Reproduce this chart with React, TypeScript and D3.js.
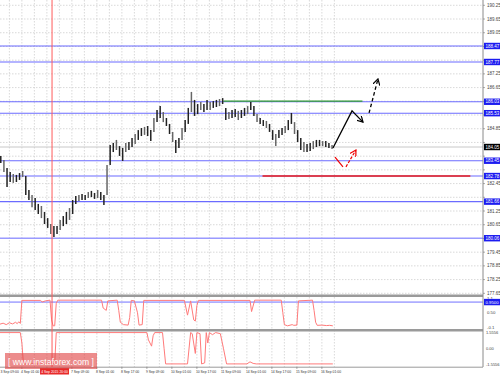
import React from "react";
import * as d3 from "d3";

const W = 500;
const H = 376;

// OHLC ranges, one entry per 2 hourly bars
const barHigh = [183.66,183.48,183.13,182.96,182.87,182.83,182.91,183.0,182.78,182.17,181.95,181.82,181.56,181.47,181.21,180.94,180.68,180.59,180.59,180.86,181.03,181.21,181.38,181.73,181.91,181.95,181.99,181.95,182.08,182.13,182.04,182.17,182.08,181.95,183.26,184.14,184.23,184.36,184.09,184.01,184.23,184.27,184.44,184.62,184.79,184.88,184.93,184.97,184.79,185.32,185.67,185.84,185.58,185.32,185.06,184.71,184.36,184.44,184.88,185.23,185.76,186.46,186.11,185.93,186.02,185.93,186.11,186.02,186.06,186.11,186.15,186.19,185.76,185.58,185.67,185.71,185.63,185.67,185.76,185.84,186.02,185.84,185.49,185.32,185.23,185.19,185.06,184.79,184.62,184.79,184.88,184.97,185.23,185.54,185.14,184.79,184.44,184.27,184.18,184.23,184.31,184.36,184.36,184.31,184.31,184.23,184.14];
const barLow = [183.35,182.96,182.3,182.52,182.48,182.52,182.61,182.74,181.95,181.73,181.42,181.29,181.12,180.94,180.68,180.51,180.24,180.11,180.24,180.42,180.59,180.68,180.86,181.12,181.56,181.69,181.73,181.73,181.82,181.86,181.78,181.82,181.73,181.51,181.95,183.26,183.83,183.92,183.66,183.44,183.83,183.92,184.05,184.18,184.36,184.53,184.58,184.53,184.31,184.71,185.14,185.32,185.14,184.97,184.62,184.27,183.79,184.01,184.36,184.71,185.06,185.58,185.41,185.49,185.67,185.58,185.67,185.67,185.76,185.8,185.84,185.93,185.23,185.28,185.32,185.36,185.23,185.32,185.41,185.49,185.67,185.41,185.14,185.06,184.97,184.88,184.71,184.36,184.09,184.44,184.58,184.66,184.79,185.06,184.62,184.27,183.92,183.83,183.83,183.88,183.96,184.05,184.09,184.09,184.05,184.01,183.96];

const priceTicks = [190.25,189.65,189.05,188.45,187.85,187.25,186.65,186.05,185.45,184.85,184.25,183.65,183.05,182.45,181.85,181.25,180.65,180.05,179.45,178.85,178.25,177.65];
const blueLevels = [188.47,187.77,186.03,185.53,183.45,182.78,181.66,180.06];
const currentPrice = 184.05;
const greenLevel = 186.06;
const greenFromTo = [143, 232];
const redLevel = 182.78;
const redFromTo = [168, 301];
const cursorBar = 33.3;
const cursorLabel = "4 Sep 2015 20:00";

const timeBars = [-2,14,30,46,62,78,94,110,126,142,158,174,190,206];
const timeLabels = ["3 Sep 09:00","4 Sep 01:00","4 Sep 17:00","7 Sep 09:00","8 Sep 01:00","8 Sep 17:00","9 Sep 09:00","10 Sep 01:00","10 Sep 17:00","11 Sep 09:00","14 Sep 01:00","14 Sep 17:00","15 Sep 09:00","16 Sep 01:00"];

// forecast arrows: [bar, price]
const blackSolid: [number, number][] = [[213.1,184.01],[225.3,185.63],[232.3,185.14]];
const blackDashed: [number, number][] = [[236.2,185.54],[241.9,187.03]];
const redDown: [number, number][] = [[214.4,183.61],[219.5,183.18]];
const redUp: [number, number][] = [[221.4,183.18],[227.8,183.92]];

// indicator pane 1: [bar, value]
const ind1: [number, number][] = [[0,0.02],[2,0.06],[4,0.0],[6,0.08],[8,0.03],[10,0.1],[11,0.04],[12,0.12],[13,0.05],[14,1.02],[26,1.02],[27,0.95],[29,1.0],[32,1.03],[33,0.2],[34,-0.05],[35,-0.05],[36,0.9],[37,1.03],[65,1.03],[66,0.7],[68,0.6],[69,1.0],[75,1.03],[76,0.6],[77,0.1],[79,0.0],[82,-0.02],[83,0.3],[84,1.02],[86,1.0],[88,0.5],[89,-0.02],[91,0.0],[92,1.02],[118,1.02],[120,0.4],[121,0.7],[122,1.0],[124,0.2],[125,0.15],[126,0.8],[127,1.02],[160,1.02],[161,0.55],[163,1.03],[180,1.03],[181,0.5],[182,0.0],[184,-0.05],[187,0.0],[188,-0.03],[190,-0.02],[191,1.0],[200,1.03],[201,0.6],[202,0.1],[203,-0.03],[206,-0.02],[209,-0.04],[211,-0.03],[213,-0.05]];
const ind1Ticks = ["1.1","0.50","-0.1"];
const ind1TickVals = [1.1,0.5,-0.1];
const ind1Level = 0.95;

// indicator pane 2: [bar, value]
const ind2: [number, number][] = [[0,1.5],[13,1.5],[14,0.5],[15,-1.5],[32,-1.5],[33,-1.4],[35,-1.5],[36,1.5],[94,1.5],[95,0.8],[97,0.2],[98,1.2],[99,1.5],[104,1.5],[105,0.0],[106,-1.5],[120,-1.5],[122,1.5],[123,1.4],[125,-0.5],[126,1.5],[128,1.4],[129,-1.5],[131,-1.4],[132,1.5],[133,0.5],[134,1.5],[136,1.3],[138,1.5],[141,1.4],[143,0.0],[145,-1.5],[158,-1.5],[160,-1.3],[162,-1.45],[164,-1.5],[213,-1.5]];
const ind2Ticks = ["1.5556","0.00","-1.5556"];
const ind2TickVals = [1.5556,0,-1.5556];

const FONT = "'Liberation Sans', Arial, sans-serif";

export default function App() {
  const AX = 483;
  const x = d3.scaleLinear().domain([0, 310]).range([0, 484.375]);
  const y = d3.scaleLinear().domain([177.65, 190.25]).range([293.3, 5.3]);
  const y2 = d3.scaleLinear().domain([-0.1, 1.1]).range([327, 298.5]);
  const y3 = d3.scaleLinear().domain([-1.5556, 1.5556]).range([364.5, 332]);

  const pLine = d3.line<[number, number]>().x(d => x(d[0])).y(d => y(d[1]));
  const l2 = d3.line<[number, number]>().x(d => x(d[0])).y(d => y2(d[1]));
  const l3 = d3.line<[number, number]>().x(d => x(d[0])).y(d => y3(d[1]));

  const gridBars = d3.range(-2, 216, 8);
  const boxed = [...blueLevels, currentPrice];
  const visibleTicks = priceTicks.filter(p => boxed.every(b => Math.abs(y(p) - y(b)) > 6.4));
  const cx = x(cursorBar);
  const visibleTimes = timeBars.map((b, i) => ({ b, label: timeLabels[i] })).filter(t => Math.abs(x(t.b) - cx) > 12);

  return (
    <svg width={W} height={H} style={{ position: "fixed", left: 0, top: 0, background: "#fff" }} fontFamily={FONT}>
      <defs>
        <marker id="ab" viewBox="0 0 8 8" refX="7" refY="4" markerWidth="7" markerHeight="7" markerUnits="userSpaceOnUse" orient="auto">
          <path d="M0,0 L7,4 L0,8" fill="none" stroke="#000" strokeWidth="1.4" />
        </marker>
        <marker id="ar" viewBox="0 0 8 8" refX="7" refY="4" markerWidth="7" markerHeight="7" markerUnits="userSpaceOnUse" orient="auto">
          <path d="M0,0 L7,4 L0,8" fill="none" stroke="#e00" strokeWidth="1.4" />
        </marker>
      </defs>

      {/* grid */}
      {priceTicks.map((p, i) => (
        <line key={"hg" + i} x1={0} x2={AX} y1={y(p)} y2={y(p)} stroke="#cfcfcf" strokeWidth={0.8} strokeDasharray="1.5,1.5" />
      ))}
      {gridBars.map((b, i) => (
        <line key={"vg" + i} x1={x(b)} x2={x(b)} y1={0} y2={367} stroke="#cfcfcf" strokeWidth={0.8} strokeDasharray="1.5,1.5" />
      ))}

      {/* bid line */}
      <line x1={0} x2={AX} y1={y(currentPrice)} y2={y(currentPrice)} stroke="#c8c8c8" strokeWidth={1} />

      {/* blue levels */}
      {blueLevels.map((p, i) => (
        <line key={"bl" + i} x1={0} x2={AX} y1={y(p)} y2={y(p)} stroke={i === blueLevels.length - 1 ? "#9a9aff" : "#6b6bff"} strokeWidth={i === blueLevels.length - 1 ? 1.6 : 1.1} />
      ))}
      {/* green level */}
      <line x1={x(greenFromTo[0])} x2={x(greenFromTo[1])} y1={y(greenLevel)} y2={y(greenLevel)} stroke="#2e9a2e" strokeWidth={1.3} />
      {/* red level */}
      <line x1={x(redFromTo[0])} x2={x(redFromTo[1])} y1={y(redLevel)} y2={y(redLevel)} stroke="#e81818" strokeWidth={1.6} />

      {/* price bars */}
      {barHigh.map((h, i) => (
        <line key={"b" + i} x1={x(i * 2 + 0.5)} x2={x(i * 2 + 0.5)} y1={y(h)} y2={y(barLow[i])} stroke={i % 3 === 1 ? "#666" : "#222"} strokeWidth={1.5} />
      ))}

      {/* forecast arrows */}
      <path d={pLine(blackSolid) || ""} fill="none" stroke="#000" strokeWidth={1.3} markerEnd="url(#ab)" />
      <path d={pLine(blackDashed) || ""} fill="none" stroke="#000" strokeWidth={1.3} strokeDasharray="3.5,2.5" markerEnd="url(#ab)" />
      <path d={pLine(redDown) || ""} fill="none" stroke="#e00" strokeWidth={1.2} />
      <path d={pLine(redUp) || ""} fill="none" stroke="#e00" strokeWidth={1.2} strokeDasharray="3,1.5" markerEnd="url(#ar)" />

      {/* panes separators */}
      <rect x={0} y={294.5} width={AX} height={2.5} fill="#9a9a9a" />
      <rect x={0} y={329} width={AX} height={2.5} fill="#9a9a9a" />
      <line x1={0} x2={AX} y1={367.2} y2={367.2} stroke="#9a9a9a" strokeWidth={1} />

      {/* indicator pane 1 */}
      <line x1={0} x2={AX} y1={y2(ind1Level)} y2={y2(ind1Level)} stroke="#7070ff" strokeWidth={1} />
      <path d={l2(ind1) || ""} fill="none" stroke="#ff7a7a" strokeWidth={1} />
      {/* indicator pane 2 */}
      <path d={l3(ind2) || ""} fill="none" stroke="#ff7a7a" strokeWidth={1} />

      {/* cursor */}
      <line x1={cx} x2={cx} y1={0} y2={367} stroke="#ff5a5a" strokeWidth={1} />

      {/* right axis */}
      <line x1={AX} x2={AX} y1={0} y2={367} stroke="#8a8a8a" strokeWidth={1} />
      {priceTicks.map((p, i) => (
        <line key={"ptm" + i} x1={AX} x2={AX + 2} y1={y(p)} y2={y(p)} stroke="#777" strokeWidth={0.6} />
      ))}
      {visibleTicks.map((p, i) => (
        <text key={"pt" + i} x={AX + 4} y={y(p) + 1.6} fontSize={4.5} fill="#444">{p.toFixed(2)}</text>
      ))}
      {blueLevels.map((p, i) => (
        <g key={"blb" + i}>
          <rect x={AX + 1} y={y(p) - 3.2} width={16} height={6.4} fill="#1c1cf0" />
          <text x={AX + 2.5} y={y(p) + 1.6} fontSize={4.5} fill="#fff">{p.toFixed(2)}</text>
        </g>
      ))}
      <rect x={AX + 1} y={y(currentPrice) - 3.2} width={16} height={6.4} fill="#000" />
      <text x={AX + 2.5} y={y(currentPrice) + 1.6} fontSize={4.5} fill="#fff">{currentPrice.toFixed(2)}</text>

      {ind1TickVals.map((v, i) => (
        <text key={"i1" + i} x={AX + 4} y={y2(v) + 1.6} fontSize={4.3} fill="#444">{ind1Ticks[i]}</text>
      ))}
      <rect x={AX + 1} y={y2(ind1Level) - 3.2} width={16} height={6.4} fill="#1c1cf0" />
      <text x={AX + 2.5} y={y2(ind1Level) + 1.6} fontSize={4.3} fill="#fff">{ind1Level.toFixed(4)}</text>
      {ind2TickVals.map((v, i) => (
        <text key={"i2" + i} x={AX + 3} y={y3(v) + 1.6} fontSize={4} fill="#444">{ind2Ticks[i]}</text>
      ))}

      {/* time axis */}
      {timeBars.map((b, i) => (
        <line key={"tm" + i} x1={x(b)} x2={x(b)} y1={367} y2={369} stroke="#777" strokeWidth={0.6} />
      ))}
      {visibleTimes.map((t, i) => (
        <text key={"t" + i} x={Math.max(0.5, x(t.b) - 1)} y={372.5} fontSize={3.4} fill="#333">{t.label}</text>
      ))}
      <rect x={cx - 12} y={368} width={29} height={6.5} fill="#e82a2a" />
      <text x={cx + 2.5} y={372.6} fontSize={3.4} fill="#fff" textAnchor="middle">{cursorLabel}</text>

      {/* watermark */}
      <rect x={5} y={353} width={92} height={16} fill="rgba(225,70,70,0.62)" />
      <text x={51} y={364.5} fontSize={8.6} fill="#fff" textAnchor="middle">[ www.instaforex.com ]</text>
    </svg>
  );
}
